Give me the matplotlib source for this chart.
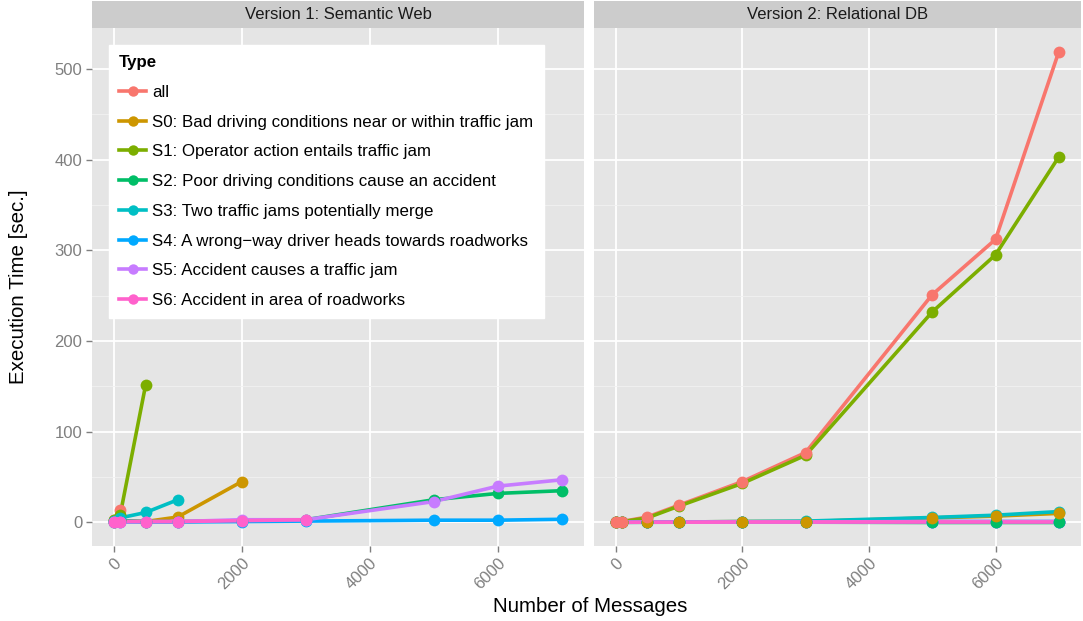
import matplotlib
matplotlib.use('Agg')
import matplotlib.pyplot as plt
from matplotlib.lines import Line2D
import numpy as np

plt.rcParams['font.family'] = ['Liberation Sans', 'DejaVu Sans']

# number of messages (x values shared by all series, series may stop early)
messages = [10, 100, 500, 1000, 2000, 3000, 5000, 6000, 7000]

types = ['all',
         'S0: Bad driving conditions near or within traffic jam',
         'S1: Operator action entails traffic jam',
         'S2: Poor driving conditions cause an accident',
         'S3: Two traffic jams potentially merge',
         'S4: A wrong\u2212way driver heads towards roadworks',
         'S5: Accident causes a traffic jam',
         'S6: Accident in area of roadworks']
colors = ['#F8766D', '#CD9600', '#7CAE00', '#00BE67',
          '#00BFC4', '#00A9FF', '#C77CFF', '#FF61CC']

# Version 1: Semantic Web
sw_all = [3, 14]
sw_s0 = [1, 2, 1, 6, 45]
sw_s1 = [3, 8, 152]
sw_s2 = [1, 2, 1, 1, 2, 3, 25, 32, 35]
sw_s3 = [2, 5, 11, 25]
sw_s4 = [0.5, 0.5, 0.5, 0.5, 1, 1.5, 2.5, 2.5, 3.5]
sw_s5 = [0.5, 1, 1, 1, 3, 3, 23, 40, 47]
sw_s6 = [0.5, 1, 1, 1, 2, 3]

# Version 2: Relational DB
rd_all = [0.5, 1, 6, 19, 45, 77, 251, 312, 519]
rd_s0 = [0.3, 0.3, 0.5, 0.5, 1, 1, 5, 7, 10]
rd_s1 = [0.3, 0.8, 5, 18, 43, 74, 232, 295, 403]
rd_s2 = [0.2, 0.2, 0.2, 0.3, 0.3, 0.3, 0, 0, 0]
rd_s3 = [0.3, 0.3, 0.5, 0.5, 1, 1.5, 5.5, 8, 12]
rd_s4 = [0.2, 0.2, 0.3, 0.3, 0.5, 0.5, 1, 1, 1]
rd_s5 = [0.2, 0.2, 0.3, 0.3, 0.5, 0.5, 1, 1, 1]
rd_s6 = [0.2, 0.2, 0.3, 0.3, 0.5, 0.5, 0.5, 0.5, 0.5]

panels = [
    ('Version 1: Semantic Web',
     [sw_all, sw_s0, sw_s1, sw_s2, sw_s3, sw_s4, sw_s5, sw_s6], False),
    ('Version 2: Relational DB',
     [rd_all, rd_s0, rd_s1, rd_s2, rd_s3, rd_s4, rd_s5, rd_s6], True),
]

W, H = 1083, 621
fig = plt.figure(figsize=(W / 100, H / 100), dpi=100)

def px_axes(x0, y0, x1, y1):
    return fig.add_axes([x0 / W, 1 - y1 / H, (x1 - x0) / W, (y1 - y0) / H])

# ggplot-like expanded limits
xmin, xmax = min(messages), max(messages)
xr = xmax - xmin
xlim = (xmin - 0.05 * xr, xmax + 0.05 * xr)
ymax_all = max(max(v) for _, s, _ in panels for v in s)
ylim = (-0.05 * ymax_all, ymax_all * 1.05)

boxes = [(92, 28, 584), (594, 28, 1081)]
axes = []
for (title, series, rev), (x0, y0, x1) in zip(panels, boxes):
    ax = px_axes(x0, y0, x1, 546)
    ax.set_facecolor('#E5E5E5')
    for sp in ax.spines.values():
        sp.set_visible(False)
    ax.set_xlim(*xlim)
    ax.set_ylim(*ylim)
    ax.set_xticks([0, 2000, 4000, 6000])
    ax.set_yticks([0, 100, 200, 300, 400, 500])
    ax.set_yticks([50, 150, 250, 350, 450], minor=True)
    ax.grid(which='major', color='white', lw=1.3)
    ax.grid(which='minor', axis='y', color='#F2F2F2', lw=0.6)
    ax.set_axisbelow(True)
    ax.tick_params(which='minor', length=0)
    ax.tick_params(which='major', color='#7F7F7F', length=4, width=1,
                   labelcolor='#7F7F7F', labelsize=12, pad=3)
    ax.set_xticklabels(['0', '2000', '4000', '6000'], rotation=45,
                       ha='right', va='top', rotation_mode='anchor')
    if axes:
        ax.tick_params(axis='y', left=False, labelleft=False)

    for i, vals in enumerate(series):
        ax.plot(messages[:len(vals)], vals, color=colors[i], lw=2.6,
                solid_capstyle='butt', zorder=2)
    order = range(len(series) - 1, -1, -1) if rev else range(len(series))
    for k, i in enumerate(order):
        vals = series[i]
        ax.plot(messages[:len(vals)], vals, ls='none', marker='o', ms=8.5,
                mec='none', color=colors[i], zorder=3 + k * 0.01)

    # facet strip
    st = px_axes(x0, 1, x1, 28)
    st.set_facecolor('#CCCCCC')
    st.set_xticks([])
    st.set_yticks([])
    for sp in st.spines.values():
        sp.set_visible(False)
    st.text(0.5, 0.5, title, ha='center', va='center', fontsize=12,
            color='#1A1A1A', transform=st.transAxes)
    axes.append(ax)

fig.text(590 / W, 1 - 607 / H, 'Number of Messages', ha='center',
         va='center', fontsize=14.8)
fig.text(19 / W, 1 - 287 / H, 'Execution Time [sec.]', ha='center',
         va='center', rotation=90, fontsize=14.8)

handles = [Line2D([], [], color=c, lw=2.6, marker='o', ms=7.5, mec='none')
           for c in colors]
leg = axes[0].legend(handles, types, title='Type', loc='upper left',
                     bbox_to_anchor=(109 / W, 1 - 45 / H),
                     bbox_transform=fig.transFigure, borderaxespad=0,
                     frameon=True, fancybox=False, framealpha=1,
                     edgecolor='white', facecolor='white', fontsize=12.2,
                     title_fontsize=12.2, labelspacing=0.87, handlelength=1.6,
                     handletextpad=0.35, borderpad=0.6, alignment='left')
leg.get_title().set_fontweight('bold')
leg.set_zorder(10)

fig.savefig('out.png', dpi=100)
